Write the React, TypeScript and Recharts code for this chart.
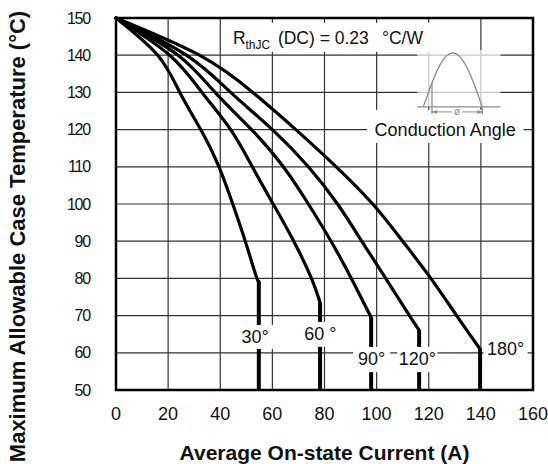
import React from "react";
import {
  LineChart, Line, XAxis, YAxis, CartesianGrid, ReferenceArea,
} from "recharts";

// axes
const X_TICKS = [0, 20, 40, 60, 80, 100, 120, 140, 160];
const Y_TICKS = [50, 60, 70, 80, 90, 100, 110, 120, 130, 140, 150];
const T_MIN = 50;

// curved part of each derating curve (last point = knee)
const I_30 = [0, 16, 24.5, 32.5, 39.5, 44.8, 49.6, 53.6, 54.8];
const T_30 = [150, 140, 130, 120, 110, 100, 90, 81, 79.2];
const I_60 = [0, 20.6, 33, 44, 52.3, 60.3, 68.2, 75, 78.3];
const T_60 = [150, 140, 130, 120, 110, 100, 90, 80, 73.5];
const I_90 = [0, 23.8, 38, 52, 64.2, 73.8, 82.5, 90.3, 97.9];
const T_90 = [150, 140, 130, 120, 110, 100, 90, 80, 69.5];
const I_120 = [0, 27, 44, 60, 73.8, 85, 94.3, 103.5, 112.6, 116.3];
const T_120 = [150, 140, 130, 120, 110, 100, 90, 80, 70, 66.1];
const I_180 = [0, 32, 52.5, 69, 84.5, 98.5, 110, 120.8, 130.7, 139.7];
const T_180 = [150, 140, 130, 120, 110, 100, 90, 80, 70, 61];

const ANGLES = ["30°", "60°", "90°", "120°", "180°"];

type Pt = { i: number; t: number };
const toPoints = (is: number[], ts: number[]): Pt[] => is.map((i, k) => ({ i, t: ts[k] }));

const curves = [
  toPoints(I_30, T_30),
  toPoints(I_60, T_60),
  toPoints(I_90, T_90),
  toPoints(I_120, T_120),
  toPoints(I_180, T_180),
];

// white label boxes (data coordinates)
const ANGLE_BOXES = [
  { text: "30°", i1: 46, i2: 60.8, t1: 61, t2: 67.5 },
  { text: "60 °", i1: 71.5, i2: 85.4, t1: 61.6, t2: 68.3 },
  { text: "90°", i1: 91, i2: 105.2, t1: 54.8, t2: 61.6 },
  { text: "120°", i1: 107.9, i2: 123.3, t1: 54.8, t2: 61.6 },
  { text: "180°", i1: 141, i2: 157.9, t1: 58.1, t2: 64 },
];

const FONT = "'Liberation Sans', Arial, Helvetica, sans-serif";
const GRAY = "#8c8c8c";

const textBox = (text: string, dy = 0) => (p: any) => (
  <g>
    <rect x={p.x} y={p.y} width={p.width} height={p.height} fill="#fff" />
    <text
      x={p.x + p.width / 2}
      y={p.y + p.height / 2 + dy}
      textAnchor="middle"
      dominantBaseline="central"
      fontSize={18}
      fill="#111"
    >
      {text}
    </text>
  </g>
);

const rthBox = (p: any) => (
  <g>
    <rect x={p.x} y={p.y} width={p.width} height={p.height} fill="#fff" />
    <text x={p.x + 3} y={p.y + 21.5} fontSize={17.5} fill="#111">
      R<tspan fontSize={12} dy={4.5}>thJC</tspan>
      <tspan x={p.x + 48} dy={-4.5}>(DC) = 0.23</tspan>
      <tspan x={p.x + 152}>°C/W</tspan>
    </text>
  </g>
);

// little half-wave icon showing the conduction angle
const insetShape = (p: any) => {
  const { x, y, width: w, height: h } = p;
  const base = y + h;
  const x0 = x + 6;
  const x1 = x + 65;
  const amp = h - 3;
  const fire = x + 14.7;
  let d = "";
  for (let k = 0; k <= 40; k++) {
    const u = k / 40;
    d += `${k ? "L" : "M"}${x0 + u * (x1 - x0)} ${base - amp * Math.sin(Math.PI * u)}`;
  }
  const fireTop = base - amp * Math.sin((Math.PI * (fire - x0)) / (x1 - x0));
  const dimY = base + 5;
  const mid = (fire + x1) / 2;
  return (
    <g>
      <rect x={x} y={y} width={w} height={h} fill="#fff" fillOpacity={0.72} />
      <line x1={x} y1={base} x2={x + w} y2={base} stroke={GRAY} strokeWidth={1.3} />
      <path d={d} fill="none" stroke={GRAY} strokeWidth={1.3} />
      <line x1={fire} y1={fireTop} x2={fire} y2={base + 7} stroke={GRAY} strokeWidth={1.3} />
      <line x1={x1} y1={base} x2={x1} y2={base + 7} stroke={GRAY} strokeWidth={1.3} />
      <line x1={fire} y1={dimY} x2={mid - 5} y2={dimY} stroke={GRAY} strokeWidth={1} />
      <line x1={mid + 5} y1={dimY} x2={x1} y2={dimY} stroke={GRAY} strokeWidth={1} />
      <path d={`M${fire} ${dimY}l5 -2v4z`} fill={GRAY} />
      <path d={`M${x1} ${dimY}l-5 -2v4z`} fill={GRAY} />
      <text x={mid} y={dimY} textAnchor="middle" dominantBaseline="central" fontSize={10} fill={GRAY}>
        ø
      </text>
    </g>
  );
};

const yTitle = (props: any) => {
  const vb = props.viewBox;
  const cx = vb.x + 17.5;
  const cy = vb.y + vb.height / 2 + 32.5;
  return (
    <text
      x={cx}
      y={cy}
      transform={`rotate(-90, ${cx}, ${cy})`}
      textAnchor="middle"
      dominantBaseline="central"
      fontSize={22}
      fontWeight="bold"
      fill="#111"
    >
      Maximum Allowable Case Temperature (°C)
    </text>
  );
};

const xTitle = (props: any) => {
  const vb = props.viewBox;
  return (
    <text
      x={vb.x + vb.width / 2}
      y={vb.y + 70}
      textAnchor="middle"
      fontSize={21}
      fontWeight="bold"
      fill="#111"
    >
      Average On-state Current (A)
    </text>
  );
};

export default function App() {
  return (
    <div style={{ width: 548, height: 464, background: "#fff", fontFamily: FONT, overflow: "hidden" }}>
      <style>{"body{margin:0}"}</style>
      <LineChart width={548} height={464} margin={{ top: 18, right: 15, bottom: 0, left: 0 }}>
        <CartesianGrid stroke="#333" strokeWidth={1.2} />
        <XAxis
          dataKey="i"
          type="number"
          domain={[0, 160]}
          ticks={X_TICKS}
          interval={0}
          axisLine={false}
          tickLine={false}
          tickSize={0}
          tickMargin={17}
          height={74}
          tick={{ fontSize: 18, fill: "#111" }}
          label={{ content: xTitle }}
        />
        <YAxis
          type="number"
          domain={[50, 150]}
          ticks={Y_TICKS}
          interval={0}
          axisLine={false}
          tickLine={false}
          tickSize={0}
          tickMargin={26}
          width={116}
          tick={{ fontSize: 16, fill: "#111", letterSpacing: -1.2 }}
          label={{ content: yTitle }}
        />
        {curves.map((pts, k) => (
          <Line
            key={ANGLES[k]}
            data={pts}
            dataKey="t"
            type="natural"
            stroke="#000"
            strokeWidth={3.2}
            strokeLinecap="round"
            dot={false}
            activeDot={false}
            isAnimationActive={false}
          />
        ))}
        {curves.map((pts, k) => {
          const knee = pts[pts.length - 1];
          return (
            <Line
              key={ANGLES[k] + "-drop"}
              data={[knee, { i: knee.i, t: T_MIN }]}
              dataKey="t"
              type="linear"
              stroke="#000"
              strokeWidth={4}
              dot={false}
              activeDot={false}
              isAnimationActive={false}
            />
          );
        })}
        {ANGLE_BOXES.map((b) => (
          <ReferenceArea
            key={b.text}
            x1={b.i1}
            x2={b.i2}
            y1={b.t1}
            y2={b.t2}
            shape={textBox(b.text)}
            zIndex={1000}
          />
        ))}
        <ReferenceArea x1={43.7} x2={122.9} y1={140.9} y2={148.7} shape={rthBox} zIndex={1000} />
        <ReferenceArea x1={96.3} x2={156.3} y1={116.4} y2={125.3} shape={textBox("Conduction Angle", 3.5)} zIndex={1000} />
        <ReferenceArea x1={115.6} x2={147.5} y1={126.1} y2={141.4} shape={insetShape} zIndex={1001} />
        <ReferenceArea
          x1={0}
          x2={160}
          y1={50}
          y2={150}
          fill="none"
          fillOpacity={0}
          stroke="#000"
          strokeWidth={2.5}
          zIndex={1002}
        />
      </LineChart>
    </div>
  );
}
